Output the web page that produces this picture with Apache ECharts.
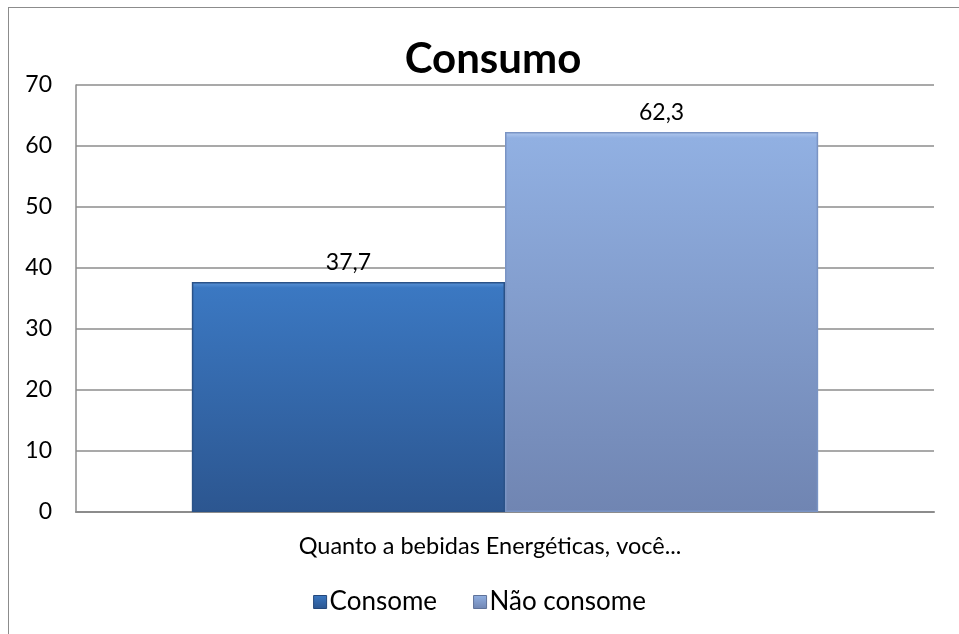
<!DOCTYPE html>
<html><head><meta charset="utf-8">
<script src="https://cdn.jsdelivr.net/npm/echarts@6/dist/echarts.min.js"></script>
<style>
html,body{margin:0;padding:0;background:#fff;}
#frame{position:absolute;left:8px;top:7px;width:960px;height:640px;border-left:1px solid #8c8c8c;border-top:1px solid #8c8c8c;}
#c{position:absolute;left:0;top:0;width:959px;height:634px;}
</style></head>
<body>
<div id="frame"></div>
<div id="c"></div>
<script>
const categories = ['Quanto a bebidas Energéticas, você...'];
const seriesNames = ['Consome', 'Não consome'];
const consome = [37.7];
const naoConsome = [62.3];
const yTicks = [0, 10, 20, 30, 40, 50, 60, 70];

const font = 'Lato, "Open Sans", sans-serif';
const G = echarts.graphic.LinearGradient;
const bar1 = new G(0,0,0,1,[{offset:0,color:'#5d95d8'},{offset:0.025,color:'#3b78c2'},{offset:1,color:'#2c5690'}]);
const bar2 = new G(0,0,0,1,[{offset:0,color:'#b4cbef'},{offset:0.016,color:'#91b0e2'},{offset:1,color:'#7085b2'}]);
const leg1 = new G(0,0,0,1,[{offset:0,color:'#3b78c2'},{offset:1,color:'#2c5690'}]);
const leg2 = new G(0,0,0,1,[{offset:0,color:'#91b0e2'},{offset:1,color:'#7085b2'}]);
const fmt = p => String(p.value).replace('.', ',');

const chart = echarts.init(document.getElementById('c'), null, {renderer:'canvas'});
chart.setOption({
  animation:false,
  title:{text:'Consumo', left:488, textAlign:'center', top:33,
    textStyle:{fontFamily:font, fontWeight:'bold', fontSize:42, color:'#000'}},
  grid:{left:76, right:25, top:85, bottom:122},
  legend:{bottom:14, left:'center', itemWidth:13, itemHeight:13, itemGap:36,
    textStyle:{fontFamily:font, fontSize:26, color:'#000', padding:[0,0,0,-2]},
    data:[{name:seriesNames[0], icon:'rect', itemStyle:{color:leg1, borderColor:'#24477a', borderWidth:1}},
          {name:seriesNames[1], icon:'rect', itemStyle:{color:leg2, borderColor:'#5f7299', borderWidth:1}}]},
  xAxis:{type:'category', data:categories,
    axisLine:{lineStyle:{color:'#8c8c8c', width:2}}, axisTick:{show:false},
    axisLabel:{fontFamily:font, fontSize:23.5, color:'#000', margin:22, padding:[0,30,0,0]}},
  yAxis:{type:'value', min:yTicks[0], max:yTicks[yTicks.length-1], interval:10,
    axisLine:{show:true, lineStyle:{color:'#8c8c8c', width:1.5}},
    axisTick:{show:false},
    splitLine:{lineStyle:{color:'#8c8c8c', width:1.5}},
    axisLabel:{fontFamily:font, fontSize:23, color:'#000', margin:24}},
  series:[
    {name:seriesNames[0], type:'bar', data:consome, barGap:'0%', barCategoryGap:'27%',
      itemStyle:{color:bar1, borderColor:'#2a5288', borderWidth:1.5},
      label:{show:true, position:'top', distance:8, fontFamily:font, fontSize:23, color:'#000', formatter:fmt}},
    {name:seriesNames[1], type:'bar', data:naoConsome,
      itemStyle:{color:bar2, borderColor:'#7a94c4', borderWidth:1.5},
      label:{show:true, position:'top', distance:8, fontFamily:font, fontSize:23, color:'#000', formatter:fmt}}
  ]
});
</script>
</body></html>
